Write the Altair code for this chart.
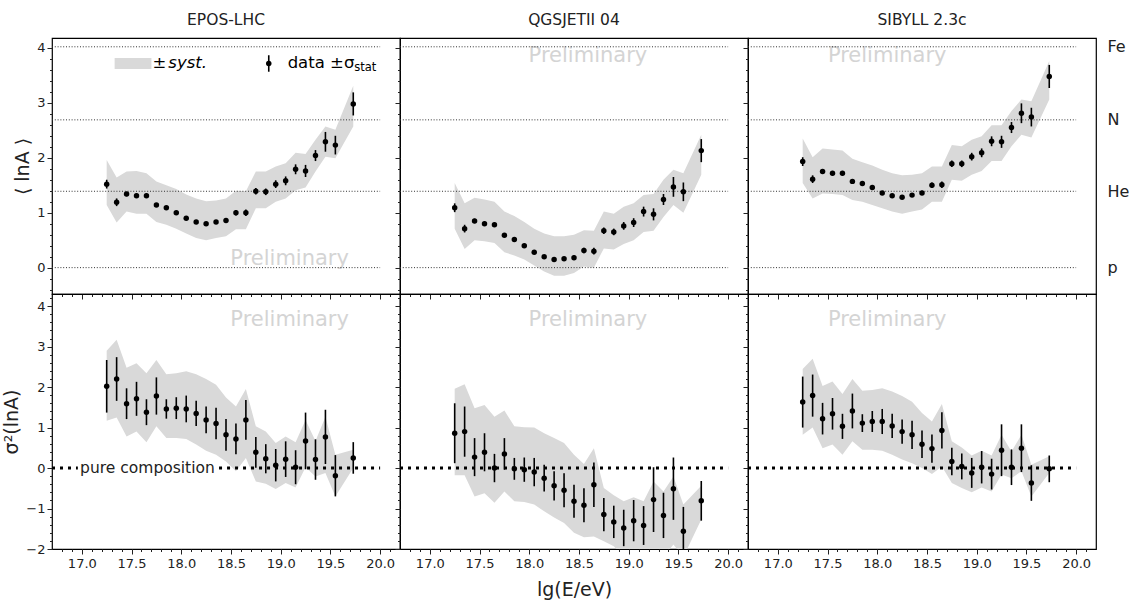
import altair as alt
import pandas as pd

# ---------------- data ----------------
lgE = [17.25, 17.35, 17.45, 17.55, 17.65, 17.75, 17.85, 17.95, 18.05, 18.15,
       18.25, 18.35, 18.45, 18.55, 18.65, 18.75, 18.85, 18.95, 19.05, 19.15,
       19.25, 19.35, 19.45, 19.55, 19.73]

models = ["EPOS-LHC", "QGSJETII 04", "SIBYLL 2.3c"]

# <lnA>
lnA_mean = [
    [1.52, 1.19, 1.34, 1.31, 1.31, 1.14, 1.09, 1.00, 0.90, 0.83, 0.80, 0.83, 0.86,
     1.00, 1.00, 1.39, 1.38, 1.52, 1.58, 1.79, 1.76, 2.04, 2.29, 2.23, 2.98],
    [1.09, 0.71, 0.85, 0.80, 0.78, 0.59, 0.51, 0.40, 0.28, 0.20, 0.15, 0.16, 0.18,
     0.31, 0.30, 0.67, 0.65, 0.76, 0.82, 1.02, 0.97, 1.24, 1.47, 1.38, 2.13],
    [1.93, 1.61, 1.75, 1.72, 1.72, 1.57, 1.53, 1.46, 1.36, 1.31, 1.28, 1.32, 1.36,
     1.50, 1.51, 1.89, 1.89, 2.02, 2.09, 2.30, 2.29, 2.55, 2.81, 2.74, 3.48],
]
lnA_stat = [0.08, 0.07, 0.04, 0.04, 0.04, 0.03, 0.03, 0.03, 0.03, 0.03, 0.03, 0.03, 0.04,
            0.05, 0.06, 0.06, 0.06, 0.07, 0.08, 0.09, 0.11, 0.10, 0.18, 0.17, 0.21]
lnA_syst_hi = [
    [1.96, 1.64, 1.75, 1.76, 1.72, 1.57, 1.50, 1.43, 1.33, 1.26, 1.21, 1.22, 1.26,
     1.40, 1.39, 1.75, 1.75, 1.84, 1.90, 2.09, 2.07, 2.33, 2.57, 2.51, 3.31],
    [1.54, 1.17, 1.27, 1.24, 1.20, 1.02, 0.94, 0.83, 0.71, 0.62, 0.57, 0.57, 0.60,
     0.68, 0.67, 1.02, 0.98, 1.11, 1.17, 1.32, 1.34, 1.60, 1.78, 1.72, 2.42],
    [2.35, 2.01, 2.17, 2.15, 2.13, 1.98, 1.92, 1.86, 1.78, 1.72, 1.68, 1.69, 1.72,
     1.84, 1.84, 2.23, 2.21, 2.33, 2.39, 2.59, 2.59, 2.85, 3.06, 3.03, 3.76],
]
lnA_syst_lo = [
    [1.14, 0.82, 1.02, 0.98, 0.98, 0.83, 0.78, 0.71, 0.62, 0.54, 0.50, 0.54, 0.57,
     0.70, 0.70, 1.08, 1.08, 1.20, 1.26, 1.41, 1.46, 1.75, 2.02, 1.99, 2.57],
    [0.71, 0.34, 0.50, 0.48, 0.45, 0.28, 0.22, 0.15, 0.04, -0.07, -0.15, -0.15, -0.10,
     0.02, 0.00, 0.35, 0.33, 0.43, 0.50, 0.65, 0.67, 0.92, 1.14, 1.00, 1.69],
    [1.54, 1.26, 1.35, 1.34, 1.32, 1.23, 1.20, 1.14, 1.08, 1.02, 0.98, 1.02, 1.06,
     1.20, 1.20, 1.60, 1.58, 1.69, 1.76, 1.94, 1.94, 2.21, 2.42, 2.37, 3.06],
]

# sigma^2(lnA)
var_mean = [
    [2.02, 2.20, 1.59, 1.71, 1.38, 1.78, 1.46, 1.48, 1.46, 1.35, 1.19, 1.10, 0.82,
     0.72, 1.19, 0.39, 0.23, 0.07, 0.22, 0.02, 0.67, 0.21, 0.77, -0.19, 0.25],
    [0.86, 0.90, 0.27, 0.39, 0.00, 0.35, -0.02, -0.04, -0.10, -0.25, -0.44, -0.55, -0.82,
     -0.92, -0.41, -1.15, -1.33, -1.48, -1.30, -1.42, -0.78, -1.17, -0.51, -1.56, -0.81],
    [1.63, 1.79, 1.22, 1.34, 1.03, 1.41, 1.11, 1.15, 1.15, 1.04, 0.90, 0.82, 0.59,
     0.48, 0.93, 0.16, 0.04, -0.12, 0.02, -0.15, 0.44, 0.02, 0.49, -0.37, -0.02],
]
var_stat = [
    [0.65, 0.54, 0.38, 0.42, 0.32, 0.46, 0.24, 0.27, 0.33, 0.31, 0.33, 0.39, 0.39,
     0.38, 0.49, 0.38, 0.36, 0.40, 0.44, 0.42, 0.70, 0.50, 0.67, 0.51, 0.39],
    [0.74, 0.62, 0.47, 0.47, 0.35, 0.39, 0.27, 0.30, 0.35, 0.33, 0.36, 0.42, 0.41,
     0.42, 0.55, 0.41, 0.40, 0.45, 0.51, 0.48, 0.80, 0.56, 0.77, 0.60, 0.49],
    [0.63, 0.52, 0.39, 0.39, 0.31, 0.43, 0.22, 0.26, 0.31, 0.30, 0.30, 0.35, 0.34,
     0.35, 0.45, 0.34, 0.32, 0.37, 0.40, 0.38, 0.64, 0.44, 0.59, 0.44, 0.33],
]
var_syst_hi = [
    [2.90, 3.17, 2.48, 2.59, 2.34, 2.67, 2.32, 2.34, 2.39, 2.32, 2.20, 2.06, 1.74,
     1.52, 1.95, 1.03, 0.90, 0.62, 0.78, 0.64, 1.19, 0.67, 1.27, 0.33, 0.45],
    [1.96, 2.07, 1.48, 1.56, 1.27, 1.42, 1.03, 1.01, 1.00, 0.86, 0.74, 0.62, 0.33,
     0.10, 0.49, -0.49, -0.67, -0.82, -0.72, -0.82, -0.33, -0.58, -0.21, -0.90, -0.44],
    [2.45, 2.70, 2.03, 2.14, 1.83, 2.20, 1.91, 1.93, 1.97, 1.89, 1.78, 1.64, 1.36,
     1.15, 1.58, 0.66, 0.51, 0.31, 0.43, 0.31, 0.82, 0.41, 0.82, 0.08, 0.29],
]
var_syst_lo = [
    [1.17, 1.25, 0.78, 0.90, 0.64, 1.03, 0.74, 0.74, 0.72, 0.58, 0.43, 0.33, 0.16,
     -0.08, 0.25, -0.33, -0.39, -0.52, -0.37, -0.48, 0.02, -0.21, -0.12, -0.70, 0.00],
    [-0.18, -0.18, -0.70, -0.62, -0.86, -0.58, -0.82, -0.84, -0.90, -1.07, -1.22, -1.36, -1.60,
     -1.71, -1.69, -1.81, -1.93, -2.20, -2.20, -2.20, -2.20, -2.20, -1.89, -2.20, -1.27],
    [0.82, 1.00, 0.49, 0.58, 0.33, 0.66, 0.45, 0.45, 0.43, 0.33, 0.21, 0.12, 0.00,
     -0.15, 0.04, -0.37, -0.49, -0.60, -0.48, -0.58, -0.16, -0.25, -0.08, -0.70, -0.12],
]

mass_names = ["p", "He", "N", "Fe"]
mass_lnA = [0.0, 1.39, 2.69, 4.02]

x_major_ticks = [17.0, 17.5, 18.0, 18.5, 19.0, 19.5, 20.0]
x_minor_ticks = [round(16.8 + 0.1 * i, 1) for i in range(34)]
y_top_ticks = [0, 1, 2, 3, 4]
y_bot_ticks = [-2, -1, 0, 1, 2, 3, 4]
y_top_minor = [round(-0.4 + 0.2 * i, 1) for i in range(23)]
y_bot_minor = [round(-2.0 + 0.2 * i, 1) for i in range(32)]

# "Preliminary" label anchors (row, col) -> (x, y)
prelim_pos = {(0, 0): (19.09, 0.16), (0, 1): (18.59, 3.85), (0, 2): (18.10, 3.85),
              (1, 0): (19.09, 3.66), (1, 1): (18.59, 3.66), (1, 2): (18.10, 3.66)}

# dotted "pure composition" line: left stub, and main part (broken around the label in panel 1)
stub_x = [16.7, 16.96]
main_x_broken = [18.38, 20.0]
main_x_full = [16.7, 20.0]

FONT = "DejaVu Sans"
BAND = "#d9d9d9"
W = 348
H = [256, 255]
XS = alt.Scale(domain=[16.7, 20.2], nice=False, zero=False)


def yscale(row):
    return alt.Scale(domain=[-0.48, 4.18] if row == 0 else [-2.0, 4.3], nice=False, zero=False)


def zero_line(xr, ys):
    return alt.Chart(pd.DataFrame({"x0": [xr[0]], "x1": [xr[1]], "y": [0.0]})).mark_rule(
        color="black", strokeWidth=3, strokeDash=[3, 5]).encode(
        x=alt.X("x0:Q", scale=XS, axis=None),
        x2="x1:Q",
        y=alt.Y("y:Q", scale=ys, axis=None),
    )


def panel(mi, row, col):
    if row == 0:
        mean, err = lnA_mean[mi], lnA_stat
        hi, lo = lnA_syst_hi[mi], lnA_syst_lo[mi]
    else:
        mean, err = var_mean[mi], var_stat[mi]
        hi, lo = var_syst_hi[mi], var_syst_lo[mi]
    df = pd.DataFrame({
        "x": lgE, "m": mean,
        "elo": [a - b for a, b in zip(mean, err)],
        "ehi": [a + b for a, b in zip(mean, err)],
        "hi": hi, "lo": lo,
    })
    ys = yscale(row)

    xtitle = "lg(E/eV)" if (row == 1 and col == 1) else None
    x_axis = alt.Axis(orient="bottom", values=x_major_ticks, labels=(row == 1), format=".1f",
                      tickSize=5, labelFontSize=13, labelPadding=3,
                      labelFlush=False, domain=False, grid=False, title=xtitle,
                      titleFontSize=19, titlePadding=10, titleFontWeight="normal")
    ytitle = None
    if col == 0:
        ytitle = "⟨ lnA ⟩" if row == 0 else "σ²(lnA)"
    y_axis = alt.Axis(orient="left", values=(y_top_ticks if row == 0 else y_bot_ticks),
                      labels=(col == 0), format="d", tickSize=5, labelFontSize=13,
                      labelPadding=2, labelFlush=False, domain=False, grid=False,
                      title=ytitle, titleFontSize=19, titlePadding=4,
                      titleFontWeight="normal")

    band = alt.Chart(df).mark_area(color=BAND, clip=True, opacity=1).encode(
        x=alt.X("x:Q", scale=XS, axis=x_axis),
        y=alt.Y("hi:Q", scale=ys, axis=y_axis),
        y2="lo:Q",
    )

    px, py = prelim_pos[(row, col)]
    prelim = alt.Chart(pd.DataFrame({"x": [px], "y": [py]})).mark_text(
        text="Preliminary", fontSize=21, color="#d4d4d4", font=FONT,
        align="center", baseline="middle").encode(
        x=alt.X("x:Q", scale=XS, axis=None),
        y=alt.Y("y:Q", scale=ys, axis=None),
    )

    layers = [band, prelim]

    if row == 0:
        right_axis = None
        if col == 2:
            right_axis = alt.Axis(orient="right", values=mass_lnA,
                                  labelExpr="datum.value < 0.5 ? 'p' : datum.value < 2 ? 'He' : datum.value < 3 ? 'N' : 'Fe'",
                                  ticks=False, domain=False, grid=False, labelPadding=11,
                                  labelFontSize=16, labelFlush=False, title=None)
        rules = alt.Chart(pd.DataFrame({"y": mass_lnA})).mark_rule(
            color="#333333", strokeWidth=1, strokeDash=[1, 1.8]).encode(
            x=alt.X(datum=16.7, scale=XS, axis=None),
            x2=alt.datum(20.0),
            y=alt.Y("y:Q", scale=ys, axis=right_axis),
        )
        layers.append(rules)
    else:
        if col == 0:
            layers.append(zero_line(stub_x, ys))
            layers.append(zero_line(main_x_broken, ys))
            txt = alt.Chart(pd.DataFrame({"x": [17.66], "y": [0.0]})).mark_text(
                text="pure composition", fontSize=15.5, font=FONT, color="#222222",
                align="center", baseline="middle").encode(
                x=alt.X("x:Q", scale=XS, axis=None),
                y=alt.Y("y:Q", scale=ys, axis=None))
            layers.append(txt)
        else:
            layers.append(zero_line(main_x_full, ys))

    errbars = alt.Chart(df).mark_rule(color="black", strokeWidth=1.6, clip=True).encode(
        x=alt.X("x:Q", scale=XS, axis=None),
        y=alt.Y("elo:Q", scale=ys, axis=None),
        y2="ehi:Q",
    )
    points = alt.Chart(df).mark_circle(size=30, color="black", opacity=1, clip=True).encode(
        x=alt.X("x:Q", scale=XS, axis=None),
        y=alt.Y("m:Q", scale=ys, axis=None),
    )
    minor = alt.Chart(df).mark_point(opacity=0).encode(
        x=alt.X("x:Q", scale=XS,
                axis=alt.Axis(orient="bottom", values=x_minor_ticks, labels=False, tickSize=2.5,
                              domain=False, grid=False, title=None)),
        y=alt.Y("m:Q", scale=ys,
                axis=alt.Axis(orient="left", values=(y_top_minor if row == 0 else y_bot_minor),
                              labels=False, tickSize=2.5, domain=False, grid=False, title=None)),
    )
    layers += [errbars, points, minor]

    if row == 0 and col == 0:
        leg_rect = alt.Chart(pd.DataFrame({"a": [17.33], "b": [17.70], "c": [3.616], "d": [3.816]})).mark_rect(
            color=BAND).encode(
            x=alt.X("a:Q", scale=XS, axis=None), x2="b:Q",
            y=alt.Y("c:Q", scale=ys, axis=None), y2="d:Q")
        leg_pm = alt.Chart(pd.DataFrame({"x": [17.71], "y": [3.716]})).mark_text(
            text="±", fontSize=16.5, font=FONT, align="left", baseline="middle", color="black").encode(
            x=alt.X("x:Q", scale=XS, axis=None), y=alt.Y("y:Q", scale=ys, axis=None))
        leg_syst = alt.Chart(pd.DataFrame({"x": [17.87], "y": [3.716]})).mark_text(
            text="syst.", fontSize=16.5, font=FONT, fontStyle="italic", align="left",
            baseline="middle", color="black").encode(
            x=alt.X("x:Q", scale=XS, axis=None), y=alt.Y("y:Q", scale=ys, axis=None))
        leg_err = alt.Chart(pd.DataFrame({"x": [18.88], "lo": [3.566], "hi": [3.866]})).mark_rule(
            color="black", strokeWidth=1.6).encode(
            x=alt.X("x:Q", scale=XS, axis=None),
            y=alt.Y("lo:Q", scale=ys, axis=None), y2="hi:Q")
        leg_pt = alt.Chart(pd.DataFrame({"x": [18.88], "y": [3.716]})).mark_circle(
            size=30, color="black", opacity=1).encode(
            x=alt.X("x:Q", scale=XS, axis=None), y=alt.Y("y:Q", scale=ys, axis=None))
        leg_data = alt.Chart(pd.DataFrame({"x": [19.07], "y": [3.716]})).mark_text(
            text="data ±σ", fontSize=16.5, font=FONT, align="left", baseline="middle",
            color="black").encode(
            x=alt.X("x:Q", scale=XS, axis=None), y=alt.Y("y:Q", scale=ys, axis=None))
        leg_sub = alt.Chart(pd.DataFrame({"x": [19.74], "y": [3.716]})).mark_text(
            text="stat", fontSize=11.5, font=FONT, align="left", baseline="middle", dy=5,
            color="black").encode(
            x=alt.X("x:Q", scale=XS, axis=None), y=alt.Y("y:Q", scale=ys, axis=None))
        layers += [leg_rect, leg_pm, leg_syst, leg_err, leg_pt, leg_data, leg_sub]

    props = dict(width=W, height=H[row])
    if row == 0:
        props["title"] = alt.TitleParams(models[mi], fontSize=15.5, fontWeight="normal",
                                         font=FONT, offset=10, anchor="middle", color="#222222")
    return alt.layer(*layers).resolve_axis(x="independent", y="independent").properties(**props)


panels = [panel(c, r, c) for r in range(2) for c in range(3)]

chart = alt.concat(*panels, columns=3, spacing=0, bounds="flush").properties(
    padding={"left": 2, "top": 11, "right": 5, "bottom": 5},
).configure_view(
    stroke="black", strokeWidth=1.2
).configure_axis(
    labelFont=FONT, titleFont=FONT, labelColor="#222222", titleColor="#222222",
    tickColor="#222222"
).configure_text(font=FONT).configure_title(font=FONT)

chart.save("out.html", embed_options={"renderer": "svg", "actions": False})
